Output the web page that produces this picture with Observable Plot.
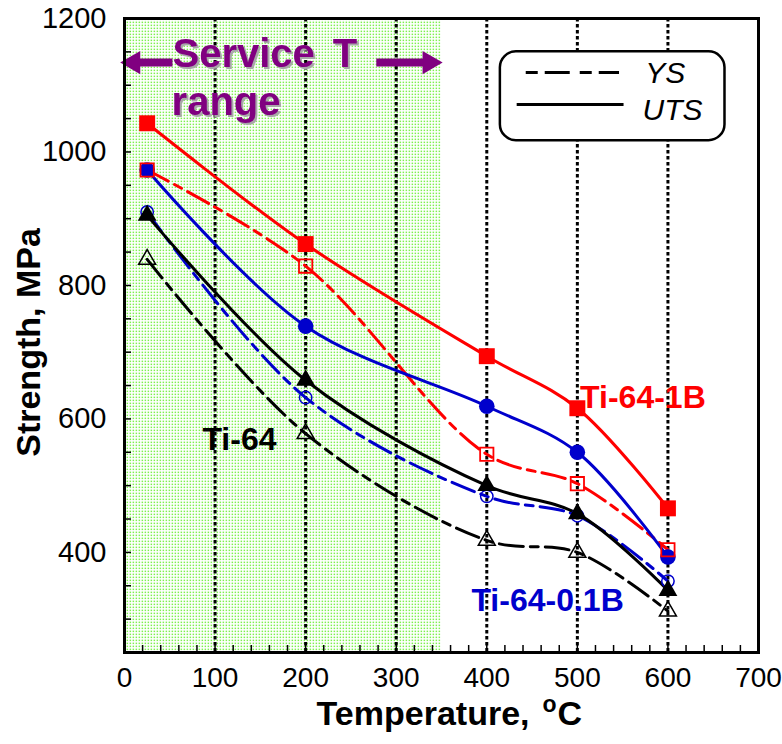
<!DOCTYPE html>
<html><head><meta charset="utf-8">
<script src="https://cdn.jsdelivr.net/npm/d3@7"></script>
<script src="https://cdn.jsdelivr.net/npm/@observablehq/plot@0.6"></script>
<style>
body{margin:0;background:#fff;}
svg{font-family:"Liberation Sans",Arial,sans-serif;}
g[fill="#800080"] text{filter:drop-shadow(2.5px 2.5px 0 #a8a8a8);}
</style>
</head><body><div id="chart"></div>
<script>
// ---- data ----
const temps = [25, 200, 400, 500, 600];
const uts_1B  = [1043, 862, 694, 616, 466];
const ys_1B   = [973, 829, 547, 503, 404];
const uts_01B = [973, 739, 619, 550, 393];
const ys_01B  = [910, 632, 484, 455, 357];
const uts_64  = [905, 658, 500, 458, 343];
const ys_64   = [839, 578, 418, 400, 312];

const xTicks = [0, 100, 200, 300, 400, 500, 600, 700];
const xMinor = d3.range(0, 701, 20);
const yTicks = [400, 600, 800, 1000, 1200];
const yMinor = d3.range(250, 1201, 50);
const gridTemps = [100, 200, 300, 400, 500, 600];
const serviceRange = [{x1: 0, x2: 350}];

const seriesLabels = [
  {text: "Ti-64-1B", x: 503, y: 631, color: "#ff0000"},
  {text: "Ti-64-0.1B", x: 383, y: 328, color: "#0000cc"},
  {text: "Ti-64", x: 86, y: 569, color: "#000000"}
];
const serviceText = [
  {text: "Service", x: 53, y: 1147, italic: false},
  {text: "T", x: 230, y: 1147, italic: true},
  {text: "range", x: 52, y: 1075, italic: false}
];
const arrows = [
  {tail: 53, tip: -4.5, head: 10, y: 1134, rot: -90},
  {tail: 278, tip: 351, head: 336.5, y: 1134, rot: 90}
];
const legendBox = [{x1: 415, x2: 663, y1: 1017, y2: 1150}];
const legendYS = [{label: "YS", x1: 443, x2: 546, y: 1119, ty: 1118, tx: 575}];
const legendUTS = [{label: "UTS", x1: 433, x2: 551, y: 1071, ty: 1062, tx: 572}];
const xTitle = ["Temperature,", "o", "C"];
const yTitle = ["Strength, MPa"];

const rows = (vals) => temps.map((t, i) => ({t, v: vals[i]}));
const YS_DASH = "24,7,8,7";
const RED = "#ff0000", BLUE = "#0000cc", BLACK = "#000000", PURPLE = "#800080";

const lineOpts = (color, dash) => ({x: "t", y: "v", stroke: color, strokeWidth: 3, curve: "catmull-rom", strokeDasharray: dash});

const chart = Plot.plot({
  width: 782,
  height: 744,
  marginLeft: 124,
  marginRight: 24,
  marginTop: 18,
  marginBottom: 92,
  style: {fontFamily: "Liberation Sans, Arial, sans-serif", background: "white", overflow: "visible"},
  x: {domain: [0, 700], axis: null},
  y: {domain: [250, 1200], axis: null},
  marks: [
    Plot.rect(serviceRange, {x1: "x1", x2: "x2", fill: "url(#greenDots)"}),
    Plot.ruleX(gridTemps, {stroke: "black", strokeWidth: 3, strokeDasharray: "3.5,2.5"}),

    // lines
    Plot.line(rows(uts_1B), lineOpts(RED)),
    Plot.line(rows(ys_1B), lineOpts(RED, YS_DASH)),
    Plot.line(rows(uts_01B), lineOpts(BLUE)),
    Plot.line(rows(ys_01B), lineOpts(BLUE, YS_DASH)),
    Plot.line(rows(uts_64), lineOpts(BLACK)),
    Plot.line(rows(ys_64), lineOpts(BLACK, YS_DASH)),

    // markers
    Plot.dot(rows(uts_01B), {x: "t", y: "v", symbol: "circle", r: 7.8, fill: BLUE}),
    Plot.dot(rows(ys_01B), {x: "t", y: "v", symbol: "circle", r: 6.2, fill: "none", stroke: BLUE, strokeWidth: 1.5}),
    Plot.dot(rows(uts_1B), {x: "t", y: "v", symbol: "square", r: 9, fill: RED}),
    Plot.dot(rows(ys_1B), {x: "t", y: "v", symbol: "square", r: 7.5, fill: "none", stroke: RED, strokeWidth: 1.8}),
    Plot.dot(rows(uts_64), {x: "t", y: "v", symbol: "triangle", r: 7, fill: BLACK}),
    Plot.dot(rows(ys_64), {x: "t", y: "v", symbol: "triangle", r: 6.3, fill: "none", stroke: BLACK, strokeWidth: 1.5}),

    // series labels
    Plot.text(seriesLabels, {x: "x", y: "y", text: "text", fill: "color", textAnchor: "start", fontSize: 32, fontWeight: "bold"}),

    // service T range
    Plot.text(serviceText, {x: "x", y: "y", text: "text", textAnchor: "start", fontSize: 40, fontWeight: "bold",
      fontStyle: d => d.italic ? "italic" : "normal", fill: PURPLE}),
    Plot.link(arrows, {x1: "tail", x2: "head", y1: "y", y2: "y", stroke: PURPLE, strokeWidth: 8}),
    Plot.dot(arrows, {x: "head", y: "y", symbol: "triangle", r: 8.6, fill: PURPLE, rotate: "rot"}),

    // legend
    Plot.rect(legendBox, {x1: "x1", x2: "x2", y1: "y1", y2: "y2", fill: "white", stroke: "black", strokeWidth: 2.5, rx: 16}),
    Plot.link(legendYS, {x1: "x1", x2: "x2", y1: "y", y2: "y", stroke: "black", strokeWidth: 3, strokeDasharray: "12,7,25,10"}),
    Plot.link(legendUTS, {x1: "x1", x2: "x2", y1: "y", y2: "y", stroke: "black", strokeWidth: 3}),
    Plot.text([...legendYS, ...legendUTS], {x: "tx", y: "ty", text: "label", textAnchor: "start", fontSize: 30, fontStyle: "italic"}),

    Plot.frame({stroke: "black", strokeWidth: 3}),

    // axes
    Plot.axisX({ticks: xMinor, tickSize: -7, strokeWidth: 1.5, tickFormat: () => "", label: null}),
    Plot.axisX({ticks: xTicks, tickSize: 0, tickPadding: 15, fontSize: 28, tickFormat: d => String(d), label: null}),
    Plot.axisY({ticks: yMinor, tickSize: -7, strokeWidth: 1.5, tickFormat: () => "", label: null}),
    Plot.axisY({ticks: yTicks, tickSize: 0, tickPadding: 18, fontSize: 29, tickFormat: d => String(d), label: null}),

    // axis titles
    Plot.text([xTitle[0]], {frameAnchor: "bottom-left", text: d => d, textAnchor: "end", dx: 405, dy: 72, fontSize: 34, fontWeight: "bold"}),
    Plot.text([xTitle[1]], {frameAnchor: "bottom-left", text: d => d, textAnchor: "start", dx: 418, dy: 59, fontSize: 23, fontWeight: "bold"}),
    Plot.text([xTitle[2]], {frameAnchor: "bottom-left", text: d => d, textAnchor: "start", dx: 433, dy: 72, fontSize: 34, fontWeight: "bold"}),
    Plot.text(yTitle, {frameAnchor: "left", text: d => d, rotate: -90, textAnchor: "middle", dx: -95, dy: 7, fontSize: 34, fontWeight: "bold"})
  ]
});

// dotted green pattern for the service range
const ns = "http://www.w3.org/2000/svg";
const defs = document.createElementNS(ns, "defs");
const pat = document.createElementNS(ns, "pattern");
pat.setAttribute("id", "greenDots");
pat.setAttribute("patternUnits", "userSpaceOnUse");
pat.setAttribute("width", "3");
pat.setAttribute("height", "3");
const dot = document.createElementNS(ns, "rect");
dot.setAttribute("x", "0.6"); dot.setAttribute("y", "0.6");
dot.setAttribute("width", "1.5"); dot.setAttribute("height", "1.5");
dot.setAttribute("fill", "#7ef050");
pat.appendChild(dot);
defs.appendChild(pat);
chart.insertBefore(defs, chart.firstChild);

document.getElementById("chart").appendChild(chart);
</script>
</body></html>
